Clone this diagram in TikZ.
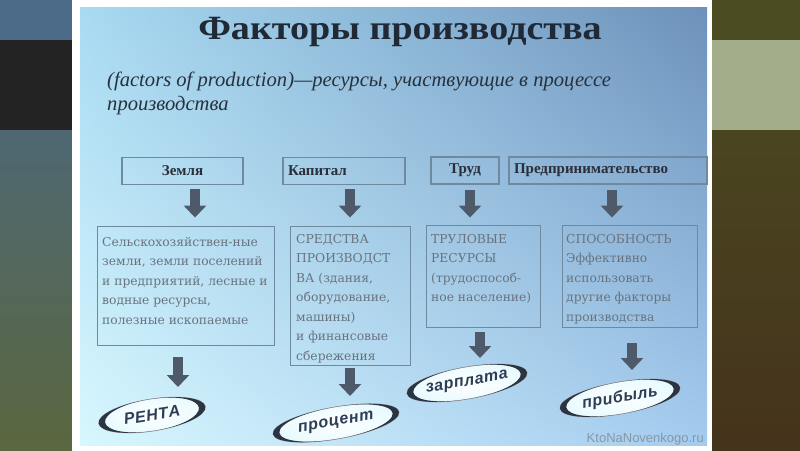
\documentclass[tikz,border=0pt]{standalone}
\usepackage{fontspec}
\setmainfont{Liberation Serif}
\newfontfamily\dserif{DejaVu Serif}
\newfontfamily\lsans[Kerning=Off]{Liberation Sans}
\newfontfamily\lsansov[Kerning=Off,LetterSpace=4]{Liberation Sans}
\usetikzlibrary{shapes.geometric,arrows.meta,calc,shadings}
\definecolor{leftTop}{HTML}{4B6B89}
\definecolor{leftDark}{HTML}{232323}
\definecolor{leftGA}{HTML}{4E6772}
\definecolor{leftGB}{HTML}{5A673F}
\definecolor{rightTop}{HTML}{4B4C22}
\definecolor{rightMid}{HTML}{A3AD8A}
\definecolor{rightGA}{HTML}{4A4520}
\definecolor{rightGB}{HTML}{45331B}
\definecolor{bgUL}{HTML}{A8DAF2}
\definecolor{bgUR}{HTML}{6D91BA}
\definecolor{bgLL}{HTML}{D8F7FE}
\definecolor{bgLR}{HTML}{A4CCEF}
\definecolor{titlec}{HTML}{1F2A36}
\definecolor{subc}{HTML}{27313D}
\definecolor{labc}{HTML}{2A2E38}
\definecolor{boxc}{HTML}{6F899E}
\definecolor{txtc}{HTML}{69737E}
\definecolor{arrc}{HTML}{4E5A6A}
\definecolor{ringc}{HTML}{2B3442}
\definecolor{ovc}{HTML}{2C3D55}
\definecolor{wmc}{HTML}{8797A6}
\newcommand\swoosh[2]{%
  \fill[ringc] (0,#2) arc[start angle=90, end angle=270, x radius=#1, y radius=#2]
     arc[start angle=270, end angle=90, x radius=#1-6.5, y radius=#2] -- cycle;
  \fill[ringc] (0,-#2) arc[start angle=-90, end angle=90, x radius=#1, y radius=#2]
     arc[start angle=90, end angle=-90, x radius=#1-6.5, y radius=#2] -- cycle;
}
\tikzset{
  topbox/.style={draw=boxc, line width=1.1pt, inner sep=0pt, minimum height=27pt,
    font=\fontsize{15}{15}\bfseries\selectfont, text=labc},
  midbox/.style={draw=boxc, line width=0.9pt, inner sep=0pt},
  midtext/.style={anchor=north west, inner sep=0pt, align=left,
    font=\dserif\fontsize{12.3}{19.5}\selectfont, text=txtc},
  barrow/.style={draw=arrc, line width=10pt, -{Triangle[width=22pt,length=12pt]}},
  oval/.style={ellipse, draw=gray!70, line width=0.7pt, inner sep=0pt,
    inner color=white, outer color=bgLL!60!white,
    font=\lsansov\fontsize{16}{16}\bfseries\itshape\selectfont, text=ovc}
}
\begin{document}
\begin{tikzpicture}[x=1pt,y=-1pt]
\useasboundingbox (0,0) rectangle (800,450);
% outer bands
\fill[leftTop] (0,0) rectangle (72,40);
\fill[leftDark] (0,40) rectangle (72,130);
\shade[top color=leftGA, bottom color=leftGB] (0,130) rectangle (72,450);
\fill[rightTop] (712,0) rectangle (800,40);
\fill[rightMid] (712,40) rectangle (800,130);
\shade[top color=rightGA, bottom color=rightGB] (712,130) rectangle (800,450);
% slide
\fill[white] (72,0) rectangle (712,450);
\shade[upper left=bgUL, upper right=bgUR, lower left=bgLL, lower right=bgLR] (80,7) rectangle (707,445);
% title
\node[font=\fontsize{34}{34}\bfseries\selectfont, text=titlec] (title) at (400,32) {\scalebox{1.12}[1]{Факторы производства}};
\node[anchor=base west, inner sep=0pt, font=\fontsize{20.6}{24}\itshape\selectfont, text=subc] (sub1) at (107,86)
  {(factors of production)—ресурсы, участвующие в процессе};
\node[anchor=base west, inner sep=0pt, font=\fontsize{20.6}{24}\itshape\selectfont, text=subc] (sub2) at (107,110)
  {производства};
% top boxes
\node[topbox, minimum width=121pt] (zem) at (182.5,171) {Земля};
\node[topbox, minimum width=122pt, text width=112pt, align=left] (kap) at (344,171) {Капитал};
\node[topbox, minimum width=68pt] (trud) at (465,170.5) {Труд};
\node[topbox, minimum width=198pt, text width=188pt, align=left] (pred) at (608,170.5) {Предпринимательство};
% middle boxes
\node[midbox, minimum width=177pt, minimum height=119pt] (b1) at (185.5,285.5) {};
\node[midbox, minimum width=120pt, minimum height=139pt] (b2) at (350,295.5) {};
\node[midbox, minimum width=114pt, minimum height=102pt] (b3) at (483,276) {};
\node[midbox, minimum width=135pt, minimum height=102pt] (b4) at (629.5,276) {};
\node[midtext] (t1) at (102,237) {Сельскохозяйствен-ные\\земли, земли поселений\\и предприятий, лесные и\\водные ресурсы,\\полезные ископаемые};
\node[midtext] (t2) at (296,234) {СРЕДСТВА\\ПРОИЗВОДСТ\\ВА (здания,\\оборудование,\\машины)\\и финансовые\\сбережения};
\node[midtext] (t3) at (431,234) {ТРУЛОВЫЕ\\РЕСУРСЫ\\(трудоспособ-\\ное население)};
\node[midtext] (t4) at (566,234) {СПОСОБНОСТЬ\\Эффективно\\использовать\\другие факторы\\производства};
% ovals
\node[oval, minimum width=108pt, minimum height=32pt, rotate=9] (renta) at (152,415) {РЕНТА};
\node[oval, minimum width=128pt, minimum height=32pt, rotate=10] (proc) at (336,423) {процент};
\node[oval, minimum width=122pt, minimum height=32pt, rotate=10] (zarp) at (467,383) {зарплата};
\node[oval, minimum width=122pt, minimum height=32pt, rotate=10] (prib) at (620,398) {прибыль};
\begin{scope}[shift={(renta.center)}, rotate=9]\swoosh{54}{16}\end{scope}
\begin{scope}[shift={(proc.center)}, rotate=10]\swoosh{64}{16}\end{scope}
\begin{scope}[shift={(zarp.center)}, rotate=10]\swoosh{61}{16}\end{scope}
\begin{scope}[shift={(prib.center)}, rotate=10]\swoosh{61}{16}\end{scope}
% arrows
\draw[barrow] ([xshift=12.5pt,yshift=-3.5pt]zem.south) -- ([xshift=9.5pt,yshift=8pt]b1.north);
\draw[barrow] ([xshift=6pt,yshift=-3.5pt]kap.south) -- ([yshift=8pt]b2.north);
\draw[barrow] ([xshift=5pt,yshift=-5.5pt]trud.south) -- ([xshift=-13pt,yshift=7pt]b3.north);
\draw[barrow] ([xshift=4pt,yshift=-5.5pt]pred.south) -- ([xshift=-17.5pt,yshift=7pt]b4.north);
\draw[barrow] ([xshift=-7.5pt,yshift=-12pt]b1.south) -- ([xshift=26pt,yshift=28pt]renta.center);
\draw[barrow] ([yshift=-3pt]b2.south) -- ([xshift=14pt,yshift=27pt]proc.center);
\draw[barrow] ([xshift=-3pt,yshift=-5pt]b3.south) -- ([xshift=13pt,yshift=25pt]zarp.center);
\draw[barrow] ([xshift=2.5pt,yshift=-16pt]b4.south) -- ([xshift=12pt,yshift=28pt]prib.center);
% watermark
\node[anchor=base east, inner sep=0pt, font=\lsans\fontsize{13}{13}\selectfont, text=wmc] (wm) at (704,442) {KtoNaNovenkogo.ru};
\end{tikzpicture}
\end{document}
